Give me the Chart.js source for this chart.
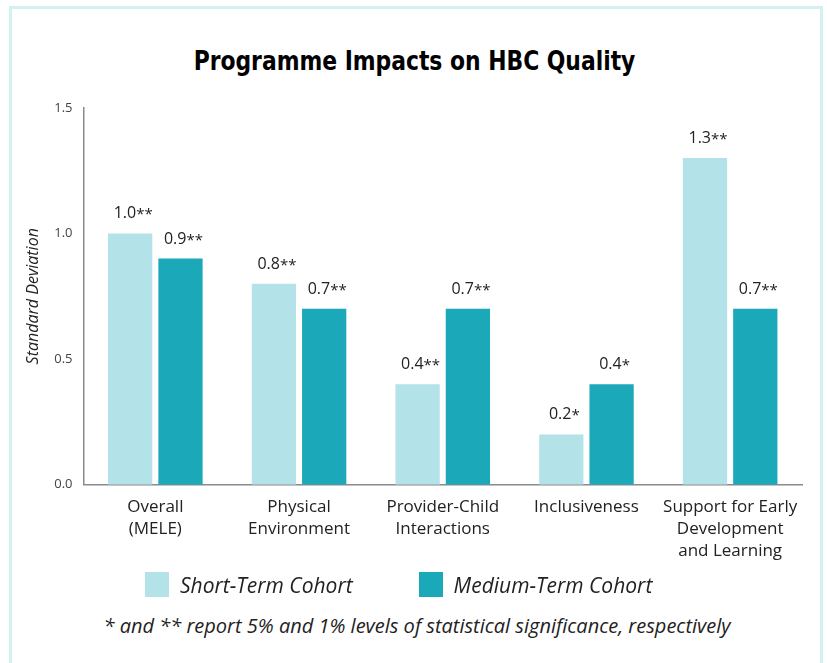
<!DOCTYPE html>
<html>
<head>
<meta charset="utf-8">
<script src="https://cdn.jsdelivr.net/npm/chart.js@4/dist/chart.umd.min.js"></script>
<style>
  html, body { margin: 0; padding: 0; background: #fff; }
  body { width: 827px; height: 663px; overflow: hidden; position: relative; font-family: "Open Sans", Lato, sans-serif; color: #222; }
  .card {
    position: absolute; left: 9px; top: 6px; width: 808px; height: 700px;
    border: 3px solid #d3f1f1;
  }
  h1 {
    position: absolute; left: 12px; width: 805px; top: 41px; margin: 0;
    text-align: center; font: bold 27px "DejaVu Sans Condensed", "Open Sans", sans-serif;
    line-height: 40px; color: #000; transform: scaleX(0.9);
  }
  .wrap { position: absolute; left: 12px; top: 89px; width: 805px; height: 484px; }
  #legend {
    position: absolute; left: 145px; top: 572px; display: flex; align-items: center;
    font-size: 21px; font-style: italic; height: 25px;
  }
  #legend .item { display: flex; align-items: center; margin-right: 66px; }
  #legend .swatch { width: 24px; height: 25px; margin-right: 11px; }
  .note {
    position: absolute; left: 12px; width: 810px; top: 612px; text-align: center;
    font-size: 20px; font-style: italic; line-height: 28px;
  }
</style>
</head>
<body>
<div class="card"></div>
<h1>Programme Impacts on HBC Quality</h1>
<div class="wrap"><canvas id="myChart"></canvas></div>
<div id="legend"></div>
<div class="note">* and ** report 5% and 1% levels of statistical significance, respectively</div>
<script>
const CATEGORIES = [
  ['Overall', '(MELE)'],
  ['Physical', 'Environment'],
  ['Provider-Child', 'Interactions'],
  ['Inclusiveness'],
  ['Support for Early', 'Development', 'and Learning']
];
const SHORT_TERM = [1.0, 0.8, 0.4, 0.2, 1.3];
const SHORT_SIG = ['**', '**', '**', '*', '**'];
const MEDIUM_TERM = [0.9, 0.7, 0.7, 0.4, 0.7];
const MEDIUM_SIG = ['**', '**', '**', '*', '**'];
const Y_TICKS = [0, 0.5, 1.0, 1.5];

const FONT = '"Open Sans", Lato, sans-serif';

// value labels above each bar
const barLabels = {
  id: 'barLabels',
  afterDatasetsDraw(chart) {
    const ctx = chart.ctx;
    const sigs = [SHORT_SIG, MEDIUM_SIG];
    chart.data.datasets.forEach((ds, di) => {
      const meta = chart.getDatasetMeta(di);
      meta.data.forEach((bar, i) => {
        const num = ds.data[i].toFixed(1);
        const stars = sigs[di][i];
        ctx.save();
        ctx.fillStyle = '#222';
        ctx.textBaseline = 'alphabetic';
        ctx.font = '16px ' + FONT;
        const w1 = ctx.measureText(num).width;
        ctx.font = '15px ' + FONT;
        const w2 = ctx.measureText(stars).width;
        const x0 = bar.x - (w1 + w2) / 2 + 3;
        const y = bar.y - 15;
        ctx.font = '16px ' + FONT;
        ctx.textAlign = 'left';
        ctx.fillText(num, x0, y);
        ctx.font = '15px ' + FONT;
        ctx.fillText(stars, x0 + w1, y + 1);
        ctx.restore();
      });
    });
  }
};

const config = {
  type: 'bar',
  data: {
    labels: CATEGORIES,
    datasets: [{
      label: 'Short-Term Cohort',
      data: SHORT_TERM,
      backgroundColor: '#b3e2e8',
      categoryPercentage: 0.7,
      barPercentage: 0.88
    }, {
      label: 'Medium-Term Cohort',
      data: MEDIUM_TERM,
      backgroundColor: '#1ba9b9',
      categoryPercentage: 0.7,
      barPercentage: 0.88
    }]
  },
  options: {
    responsive: true,
    maintainAspectRatio: false,
    animation: false,
    layout: { padding: { left: 12, right: 15, top: 10, bottom: 0 } },
    scales: {
      x: {
        grid: { display: false, drawTicks: false },
        border: { display: true, color: '#8a8a8a', width: 1.5 },
        ticks: {
          color: '#222',
          padding: 11,
          maxRotation: 0,
          autoSkip: false,
          font: { family: FONT, size: 17, lineHeight: 1.3 }
        }
      },
      y: {
        min: 0,
        max: 1.5,
        afterBuildTicks: axis => { axis.ticks = Y_TICKS.map(v => ({ value: v })); },
        grid: { display: false, drawTicks: false },
        border: { display: true, color: '#8a8a8a', width: 1.5 },
        ticks: {
          color: '#444',
          padding: 11,
          font: { family: FONT, size: 13 },
          callback: v => Number(v).toFixed(1)
        },
        title: {
          display: true,
          text: 'Standard Deviation',
          color: '#222',
          padding: { top: 0, bottom: 0 },
          font: { family: FONT, size: 16, style: 'italic' }
        }
      }
    },
    plugins: {
      legend: { display: false },
      title: { display: false },
      tooltip: { enabled: false }
    }
  },
  plugins: [barLabels]
};

const chart = new Chart(document.getElementById('myChart'), config);

// html legend built from the datasets
const legendEl = document.getElementById('legend');
chart.data.datasets.forEach(ds => {
  const item = document.createElement('div');
  item.className = 'item';
  const sw = document.createElement('span');
  sw.className = 'swatch';
  sw.style.background = ds.backgroundColor;
  const txt = document.createElement('span');
  txt.textContent = ds.label;
  item.appendChild(sw);
  item.appendChild(txt);
  legendEl.appendChild(item);
});
</script>
</body>
</html>
